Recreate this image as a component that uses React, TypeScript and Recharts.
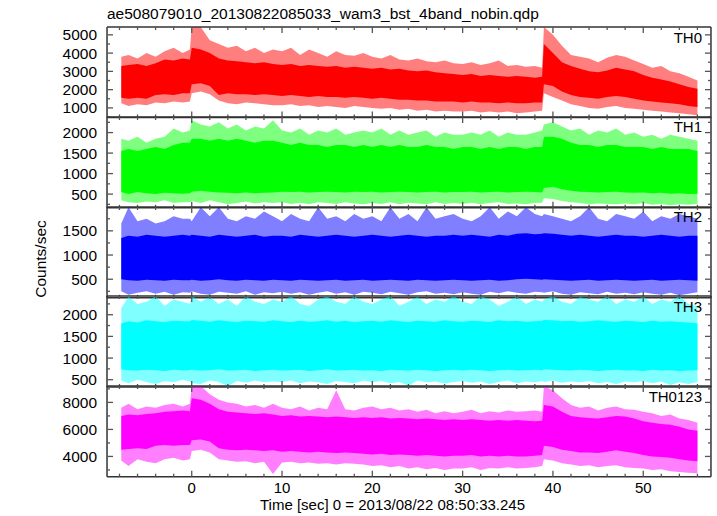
import React from 'react';
import { ComposedChart, Area, Line, XAxis, YAxis } from 'recharts';

// Time grid (sec)
const TIME = [
  -7.8, -7, -6, -5, -4, -3, -2, -1,
  -0.2, 0, 1, 2, 3, 4, 5, 6, 7, 8, 9,
  10, 11, 12, 13, 14, 15, 16, 17, 18, 19,
  20, 21, 22, 23, 24, 25, 26, 27, 28, 29,
  30, 31, 32, 33, 34, 35, 36, 37, 38, 38.8,
  39, 40, 41, 42, 43, 44, 45, 46, 47, 48,
  49, 50, 51, 52, 53, 54, 55, 56,
];

// TH0 (red)
const TH0_HI = [
  3300, 3350, 3400, 3300, 3450, 3650, 3600, 3700,
  3650, 4300, 4200, 4000, 3700, 3600, 3550, 3500, 3450, 3500, 3400,
  3350, 3400, 3300, 3350, 3300, 3250, 3300, 3200, 3250, 3200,
  3150, 3200, 3100, 3150, 3050, 3000, 3050, 2950, 2900, 2850,
  2800, 2850, 2750, 2800, 2750, 2700, 2750, 2700, 2650, 2700,
  4500, 4000, 3500, 3300, 3150, 3000, 2950, 3050, 3200, 3100,
  3000, 2800, 2650, 2550, 2450, 2300, 2150, 2050,
];
const TH0_LO = [
  1550, 1500, 1550, 1500, 1700, 1750, 1700, 1800,
  1800, 2300, 2350, 2200, 1700, 1800, 1750, 1750, 1700, 1750, 1700,
  1650, 1700, 1650, 1600, 1650, 1600, 1600, 1550, 1600, 1550,
  1500, 1550, 1500, 1450, 1450, 1400, 1400, 1350, 1350, 1350,
  1300, 1350, 1300, 1300, 1250, 1300, 1250, 1250, 1300, 1300,
  2300, 2200, 1900, 1700, 1600, 1550, 1500, 1600, 1650, 1600,
  1500, 1400, 1350, 1300, 1250, 1200, 1100, 1050,
];
const TH0_MAX = [
  3800, 3900, 3700, 4000, 3800, 4100, 4300, 4000,
  4200, 5430, 5430, 4700, 4500, 4300, 4400, 4100, 4300, 4000, 4200,
  4100, 4300, 3900, 4200, 4000, 3800, 4100, 3900, 3850, 4000,
  3800, 3700, 3900, 3650, 3600, 3700, 3550, 3500, 3600, 3450,
  3400, 3500, 3350, 3450, 3600, 3300, 3350, 3250, 3300, 3200,
  5430, 5000, 4400, 3900, 3800, 3700, 3500, 3750, 3900, 3800,
  3600, 3400, 3200, 3300, 3000, 2900, 2700, 2500,
];
const TH0_MIN = [
  1250, 1100, 1200, 1150, 1300, 1250, 1350, 1300,
  1350, 1800, 1900, 1750, 1400, 1250, 1200, 1300, 1250, 1200, 1150,
  1150, 1200, 1100, 1150, 1050, 1100, 1050, 1000, 1100, 1050,
  1000, 950, 1000, 900, 950, 850, 900, 800, 850, 800,
  800, 850, 750, 800, 750, 800, 700, 750, 800, 850,
  1800, 1600, 1400, 1200, 1100, 1000, 950, 1050, 1100, 1000,
  950, 900, 850, 800, 750, 700, 650, 600,
];

// TH1 (green)
const TH1_HI = [
  1550, 1600, 1550, 1600, 1650, 1600, 1700, 1750,
  1750, 1850, 1850, 1800, 1850, 1800, 1850, 1800, 1750, 1800, 1800,
  1750, 1700, 1750, 1700, 1700, 1650, 1700, 1700, 1650, 1700,
  1650, 1700, 1650, 1700, 1650, 1650, 1700, 1650, 1650, 1600,
  1650, 1650, 1600, 1650, 1600, 1650, 1650, 1600, 1650, 1650,
  1900, 1900, 1850, 1750, 1700, 1700, 1650, 1700, 1700, 1650,
  1650, 1650, 1600, 1650, 1600, 1600, 1600, 1550,
];
const TH1_LO = [
  550, 500, 550, 520, 500, 530, 520, 510,
  520, 560, 580, 560, 540, 530, 520, 540, 520, 530, 540,
  560, 550, 560, 540, 550, 560, 550, 540, 560, 550,
  560, 540, 550, 560, 550, 540, 550, 560, 540, 550,
  550, 560, 540, 550, 560, 540, 550, 560, 550, 540,
  650, 680, 620, 580, 560, 550, 540, 550, 560, 540,
  530, 540, 520, 530, 510, 520, 500, 510,
];
const TH1_MAX = [
  1850, 1800, 1900, 1750, 1850, 1900, 2100, 2000,
  2050, 2300, 2200, 2150, 2250, 2100, 2200, 2050, 2150, 2100, 2300,
  2050, 2000, 2100, 1950, 2050, 2000, 2100, 1950, 2000, 2050,
  2000, 2100, 1950, 2050, 1950, 2000, 2050, 1900, 2000, 1950,
  1950, 2000, 1950, 2050, 1900, 2000, 1950, 1950, 2000, 2050,
  2200, 2250, 2150, 2050, 2100, 1950, 2050, 2000, 2100, 1950,
  2000, 1900, 1950, 1850, 1950, 1900, 1850, 1800,
];
const TH1_MIN = [
  350, 300, 280, 320, 300, 350, 280, 300,
  300, 330, 280, 350, 300, 250, 280, 320, 270, 300, 280,
  300, 260, 290, 250, 300, 280, 260, 300, 270, 250,
  280, 260, 300, 250, 290, 270, 250, 300, 260, 280,
  260, 290, 250, 280, 300, 260, 270, 250, 280, 290,
  400, 380, 330, 300, 280, 250, 270, 260, 250, 270,
  250, 280, 240, 260, 230, 250, 240, 260,
];

// TH2 (blue)
const TH2_HI = [
  1350, 1400, 1380, 1420, 1400, 1380, 1400, 1420,
  1400, 1420, 1400, 1380, 1420, 1400, 1380, 1400, 1420, 1380, 1400,
  1400, 1380, 1420, 1400, 1380, 1400, 1420, 1400, 1380, 1400,
  1420, 1400, 1380, 1400, 1420, 1400, 1380, 1400, 1400, 1420,
  1400, 1420, 1400, 1380, 1420, 1400, 1440, 1450, 1430, 1440,
  1450, 1440, 1420, 1400, 1420, 1400, 1380, 1400, 1420, 1400,
  1400, 1380, 1400, 1420, 1400, 1380, 1400, 1400,
];
const TH2_LO = [
  500, 480, 470, 490, 480, 470, 490, 480,
  480, 490, 470, 480, 500, 480, 470, 490, 480, 470, 490,
  480, 470, 490, 480, 470, 480, 490, 470, 480, 490,
  470, 480, 490, 480, 470, 490, 480, 470, 480, 490,
  480, 470, 480, 490, 470, 480, 500, 510, 500, 490,
  500, 490, 480, 470, 480, 490, 470, 480, 490, 480,
  470, 480, 490, 470, 480, 490, 480, 470,
];
const TH2_MAX = [
  1650, 1990, 1700, 1750, 1650, 1700, 1800, 1750,
  1750, 1700, 1990, 1800, 1990, 1750, 1700, 1800, 1750, 1900, 1800,
  1700, 1850, 1750, 1700, 1990, 1750, 1800, 1700, 1850, 1750,
  1800, 1700, 1990, 1750, 1850, 1700, 1990, 1750, 1800, 1850,
  1750, 1700, 1800, 1990, 1750, 1900, 1800, 1990, 1850, 1800,
  1850, 1800, 1750, 1700, 1800, 1990, 1750, 1700, 1850, 1800,
  1750, 1900, 1700, 1800, 1750, 1850, 1800, 1750,
];
const TH2_MIN = [
  250, 180, 220, 250, 200, 240, 180, 230,
  220, 250, 200, 180, 240, 220, 200, 250, 180, 230, 210,
  240, 200, 230, 180, 220, 250, 200, 230, 180, 240,
  220, 190, 240, 210, 180, 230, 250, 200, 220, 190,
  230, 200, 180, 240, 210, 250, 220, 200, 240, 230,
  220, 250, 200, 180, 230, 210, 190, 240, 200, 220,
  190, 230, 200, 180, 220, 170, 200, 230,
];

// TH3 (cyan)
const TH3_HI = [
  1800, 1850, 1820, 1870, 1850, 1830, 1860, 1850,
  1850, 1880, 1860, 1840, 1870, 1850, 1830, 1860, 1850, 1840, 1870,
  1850, 1830, 1860, 1840, 1850, 1870, 1840, 1860, 1830, 1850,
  1860, 1840, 1870, 1850, 1830, 1860, 1850, 1840, 1870, 1850,
  1840, 1860, 1850, 1830, 1870, 1850, 1860, 1840, 1850, 1860,
  1880, 1870, 1850, 1860, 1840, 1850, 1870, 1850, 1840, 1860,
  1850, 1830, 1860, 1840, 1850, 1830, 1820, 1800,
];
const TH3_LO = [
  740, 720, 710, 730, 720, 700, 730, 720,
  720, 730, 710, 720, 740, 710, 720, 730, 700, 720, 730,
  710, 720, 730, 700, 720, 740, 710, 720, 730, 710,
  720, 700, 730, 720, 710, 730, 720, 700, 720, 730,
  710, 730, 720, 700, 720, 730, 710, 720, 730, 720,
  740, 730, 720, 710, 730, 720, 700, 720, 730, 710,
  720, 700, 730, 710, 720, 700, 710, 720,
];
const TH3_MAX = [
  2150, 2420, 2250, 2300, 2430, 2200, 2350, 2300,
  2250, 2430, 2300, 2410, 2250, 2350, 2200, 2430, 2300, 2250, 2350,
  2300, 2430, 2250, 2200, 2350, 2420, 2300, 2250, 2430, 2300,
  2250, 2350, 2430, 2200, 2300, 2410, 2250, 2350, 2300, 2430,
  2300, 2250, 2430, 2350, 2200, 2300, 2420, 2250, 2350, 2300,
  2350, 2430, 2300, 2250, 2410, 2350, 2300, 2430, 2250, 2350,
  2300, 2420, 2250, 2350, 2300, 2430, 2250, 2200,
];
const TH3_MIN = [
  480, 420, 500, 450, 400, 470, 440, 500,
  460, 420, 400, 480, 450, 350, 470, 430, 480, 440, 460,
  450, 480, 420, 460, 440, 400, 470, 450, 420, 480,
  440, 470, 420, 450, 360, 480, 440, 460, 410, 450,
  470, 430, 460, 400, 450, 480, 420, 460, 440, 470,
  450, 480, 430, 460, 440, 470, 420, 450, 400, 460,
  440, 470, 420, 460, 380, 440, 400, 450,
];

// TH0123 (magenta)
const TH0123_HI = [
  7000, 7100, 7050, 7150, 7200, 7300, 7350, 7400,
  7350, 8300, 8200, 7900, 7500, 7300, 7250, 7200, 7150, 7200, 7100,
  7000, 7050, 6950, 7000, 6950, 6900, 6950, 6900, 6850, 6900,
  6850, 6900, 6800, 6850, 6800, 6750, 6800, 6750, 6700, 6750,
  6700, 6750, 6700, 6650, 6700, 6650, 6700, 6650, 6600, 6650,
  7800, 7700, 7300, 7000, 6900, 6850, 6800, 6900, 7000, 6950,
  6800, 6600, 6500, 6400, 6350, 6200, 6000, 5900,
];
const TH0123_LO = [
  4500, 4550, 4600, 4550, 4800, 4850, 4800, 4850,
  4850, 5200, 5250, 5100, 4600, 4500, 4450, 4500, 4450, 4400, 4450,
  4350, 4400, 4350, 4300, 4350, 4300, 4250, 4300, 4250, 4200,
  4150, 4200, 4100, 4150, 4100, 4050, 4100, 4050, 4000, 4050,
  4050, 4100, 4000, 4050, 4000, 4050, 4000, 4000, 4050, 4100,
  4800, 4700, 4500, 4400, 4300, 4300, 4250, 4350, 4450, 4350,
  4250, 4100, 4000, 3950, 3900, 3800, 3700, 3650,
];
const TH0123_MAX = [
  7600, 7900, 7500, 7700, 7600, 7800, 7900, 7700,
  7900, 9200, 9215, 8600, 8200, 8000, 7900, 7700, 7800, 7600, 7900,
  7600, 7500, 7700, 7400, 7600, 7500, 8900, 7500, 7400, 7600,
  7700, 7500, 7600, 7400, 7500, 7300, 7450, 7200, 7350, 7200,
  7300, 7450, 7200, 7350, 7250, 7400, 7300, 7350, 7400, 7300,
  9200, 8900, 8300, 7800, 7600, 7700, 7400, 7600, 7700, 7500,
  7450, 7300, 7200, 7000, 7100, 6800, 6700, 6500,
];
const TH0123_MIN = [
  3700, 3300, 3800, 3600, 3500, 3800, 3900, 3700,
  3800, 4400, 4500, 4300, 3800, 3700, 3600, 3650, 3500, 3600, 2700,
  3550, 3600, 3500, 3550, 3450, 3500, 3400, 3500, 3450, 3400,
  3300, 3350, 3200, 3300, 3100, 3200, 3050, 3150, 3000, 3100,
  3100, 3200, 3000, 3150, 3100, 3200, 3100, 3150, 3200, 3300,
  3800, 3700, 3500, 3400, 3300, 3350, 3200, 3300, 3350, 3200,
  3150, 3100, 3000, 3050, 2900, 2850, 2800, 2750,
];

// Axis ticks
const X_TICKS = [-8, -6, -4, -2, 0, 2, 4, 6, 8, 10, 12, 14, 16, 18, 20, 22, 24, 26, 28, 30, 32, 34, 36, 38, 40, 42, 44, 46, 48, 50, 52, 54, 56];
const X_MAJOR = [0, 10, 20, 30, 40, 50];
const X_DOMAIN = [-9.38, 57.5];

const TH0_TICKS = [500, 1000, 1500, 2000, 2500, 3000, 3500, 4000, 4500, 5000];
const TH0_MAJOR = [1000, 2000, 3000, 4000, 5000];
const TH1_TICKS = [250, 500, 750, 1000, 1250, 1500, 1750, 2000, 2250];
const TH1_MAJOR = [500, 1000, 1500, 2000];
const TH2_TICKS = [250, 500, 750, 1000, 1250, 1500, 1750];
const TH2_MAJOR = [500, 1000, 1500];
const TH3_TICKS = [500, 750, 1000, 1250, 1500, 1750, 2000, 2250];
const TH3_MAJOR = [500, 1000, 1500, 2000];
const TH0123_TICKS = [3000, 4000, 5000, 6000, 7000, 8000, 9000];
const TH0123_MAJOR = [4000, 6000, 8000];

const FONT = '"Liberation Sans", Arial, Helvetica, sans-serif';
const AXIS_COLOR = '#333';
const TICK_COLOR = '#555';

const PANELS = [
  { name: 'TH0', color: '#ff0000', domain: [480, 5430], ticks: TH0_TICKS, major: TH0_MAJOR, top: 27.3, bottom: 116.7, hi: TH0_HI, lo: TH0_LO, max: TH0_MAX, min: TH0_MIN },
  { name: 'TH1', color: '#00ff00', domain: [166, 2380], ticks: TH1_TICKS, major: TH1_MAJOR, top: 116.7, bottom: 206.5, hi: TH1_HI, lo: TH1_LO, max: TH1_MAX, min: TH1_MIN },
  { name: 'TH2', color: '#0000ff', domain: [116, 1993], ticks: TH2_TICKS, major: TH2_MAJOR, top: 206.5, bottom: 296.3, hi: TH2_HI, lo: TH2_LO, max: TH2_MAX, min: TH2_MIN },
  { name: 'TH3', color: '#00ffff', domain: [332, 2432], ticks: TH3_TICKS, major: TH3_MAJOR, top: 296.3, bottom: 386.3, hi: TH3_HI, lo: TH3_LO, max: TH3_MAX, min: TH3_MIN },
  { name: 'TH0123', color: '#ff00ff', domain: [2500, 9215], ticks: TH0123_TICKS, major: TH0123_MAJOR, top: 386.3, bottom: 476, hi: TH0123_HI, lo: TH0123_LO, max: TH0123_MAX, min: TH0123_MIN },
];

const LeftTick = (props: any) => {
  const { x, y, payload, major } = props;
  const isMajor = major.includes(payload.value);
  return (
    <g>
      <line x1={x} y1={y} x2={x + (isMajor ? 6 : 3)} y2={y} stroke={TICK_COLOR} strokeWidth={1.3} />
      {isMajor && (
        <text x={x - 10} y={y} dy="0.36em" textAnchor="end" fontSize={15.5} fontFamily={FONT} fill="#000">
          {payload.value}
        </text>
      )}
    </g>
  );
};

const RightTick = (props: any) => {
  const { x, y, payload, major } = props;
  const isMajor = major.includes(payload.value);
  return <line x1={x} y1={y} x2={x - (isMajor ? 6 : 3)} y2={y} stroke={TICK_COLOR} strokeWidth={1.3} />;
};

const BottomTick = (props: any) => {
  const { x, y, payload, showLabel } = props;
  const isMajor = X_MAJOR.includes(payload.value);
  return (
    <g>
      <line x1={x} y1={y} x2={x} y2={y - (isMajor ? 6 : 3)} stroke={TICK_COLOR} strokeWidth={1.3} />
      {isMajor && showLabel && (
        <text x={x} y={y + 16} textAnchor="middle" fontSize={15} fontFamily={FONT} fill="#000">
          {payload.value}
        </text>
      )}
    </g>
  );
};

const TopTick = (props: any) => {
  const { x, y, payload } = props;
  const isMajor = X_MAJOR.includes(payload.value);
  return <line x1={x} y1={y} x2={x} y2={y + (isMajor ? 6 : 3)} stroke={TICK_COLOR} strokeWidth={1.3} />;
};

const Panel = ({ p, last }: { p: any; last: boolean }) => {
  const data = TIME.map((t, i) => ({ t, hi: p.hi[i], lo: p.lo[i], max: p.max[i], min: p.min[i] }));
  const plotH = p.bottom - p.top;
  const xAxisH = last ? 36 : 1;
  const height = plotH + 2 + 1 + xAxisH + 1;
  return (
    <div style={{ position: 'absolute', left: 0, top: p.top - 2, width: 717, height }}>
      <ComposedChart width={717} height={height} data={data} margin={{ top: 1, right: 0, bottom: 1, left: 0 }}>
        <XAxis
          xAxisId="b"
          dataKey="t"
          type="number"
          domain={X_DOMAIN}
          ticks={X_TICKS}
          allowDataOverflow
          orientation="bottom"
          height={xAxisH}
          tickSize={0}
          tickMargin={0}
          tickLine={false}
          axisLine={{ stroke: AXIS_COLOR, strokeWidth: 1.5 }}
          tick={(tp: any) => <BottomTick {...tp} showLabel={last} />}
          interval={0}
        />
        <XAxis
          xAxisId="t"
          dataKey="t"
          type="number"
          domain={X_DOMAIN}
          ticks={X_TICKS}
          allowDataOverflow
          orientation="top"
          height={1}
          tickSize={0}
          tickMargin={0}
          tickLine={false}
          axisLine={{ stroke: AXIS_COLOR, strokeWidth: 1.5 }}
          tick={(tp: any) => <TopTick {...tp} />}
          interval={0}
        />
        <YAxis
          yAxisId="l"
          type="number"
          domain={p.domain}
          ticks={p.ticks}
          allowDataOverflow
          orientation="left"
          width={107}
          tickSize={0}
          tickMargin={0}
          tickLine={false}
          axisLine={{ stroke: AXIS_COLOR, strokeWidth: 1.5 }}
          tick={(tp: any) => <LeftTick {...tp} major={p.major} />}
          interval={0}
        />
        <YAxis
          yAxisId="r"
          type="number"
          domain={p.domain}
          ticks={p.ticks}
          allowDataOverflow
          orientation="right"
          width={6}
          tickSize={0}
          tickMargin={0}
          tickLine={false}
          axisLine={{ stroke: AXIS_COLOR, strokeWidth: 1.5 }}
          tick={(tp: any) => <RightTick {...tp} major={p.major} />}
          interval={0}
        />
        <Area
          xAxisId="b"
          yAxisId="l"
          type="linear"
          dataKey={(d: any) => [d.min, d.max]}
          fill={p.color}
          fillOpacity={0.5}
          stroke="none"
          dot={false}
          activeDot={false}
          isAnimationActive={false}
        />
        <Area
          xAxisId="b"
          yAxisId="l"
          type="linear"
          dataKey={(d: any) => [d.lo, d.hi]}
          fill={p.color}
          fillOpacity={1}
          stroke="none"
          dot={false}
          activeDot={false}
          isAnimationActive={false}
        />
        <Line
          xAxisId="t"
          yAxisId="r"
          type="linear"
          dataKey="hi"
          stroke="none"
          strokeOpacity={0}
          dot={false}
          activeDot={false}
          legendType="none"
          isAnimationActive={false}
        />
      </ComposedChart>
    </div>
  );
};

export default function App() {
  return (
    <div style={{ position: 'absolute', left: 0, top: 0, width: 717, height: 516, background: '#fff', fontFamily: FONT }}>
      {PANELS.map((p, i) => (
        <Panel key={p.name} p={p} last={i === PANELS.length - 1} />
      ))}
      <svg width={717} height={516} style={{ position: 'absolute', left: 0, top: 0, pointerEvents: 'none' }}>
        <text x={107} y={19} fontSize={15.5} fontFamily={FONT} fill="#000">
          ae508079010_20130822085033_wam3_bst_4band_nobin.qdp
        </text>
        {PANELS.map((p) => (
          <text key={p.name} x={702} y={p.top + 15.5} textAnchor="end" fontSize={15} fontFamily={FONT} fill="#000">
            {p.name}
          </text>
        ))}
        <text x={46} y={259} transform="rotate(-90 46 259)" textAnchor="middle" fontSize={15.5} fontFamily={FONT} fill="#000">
          Counts/sec
        </text>
        <text x={260} y={510} fontSize={15} fontFamily={FONT} fill="#000">
          Time [sec] 0 = 2013/08/22 08:50:33.245
        </text>
      </svg>
    </div>
  );
}
